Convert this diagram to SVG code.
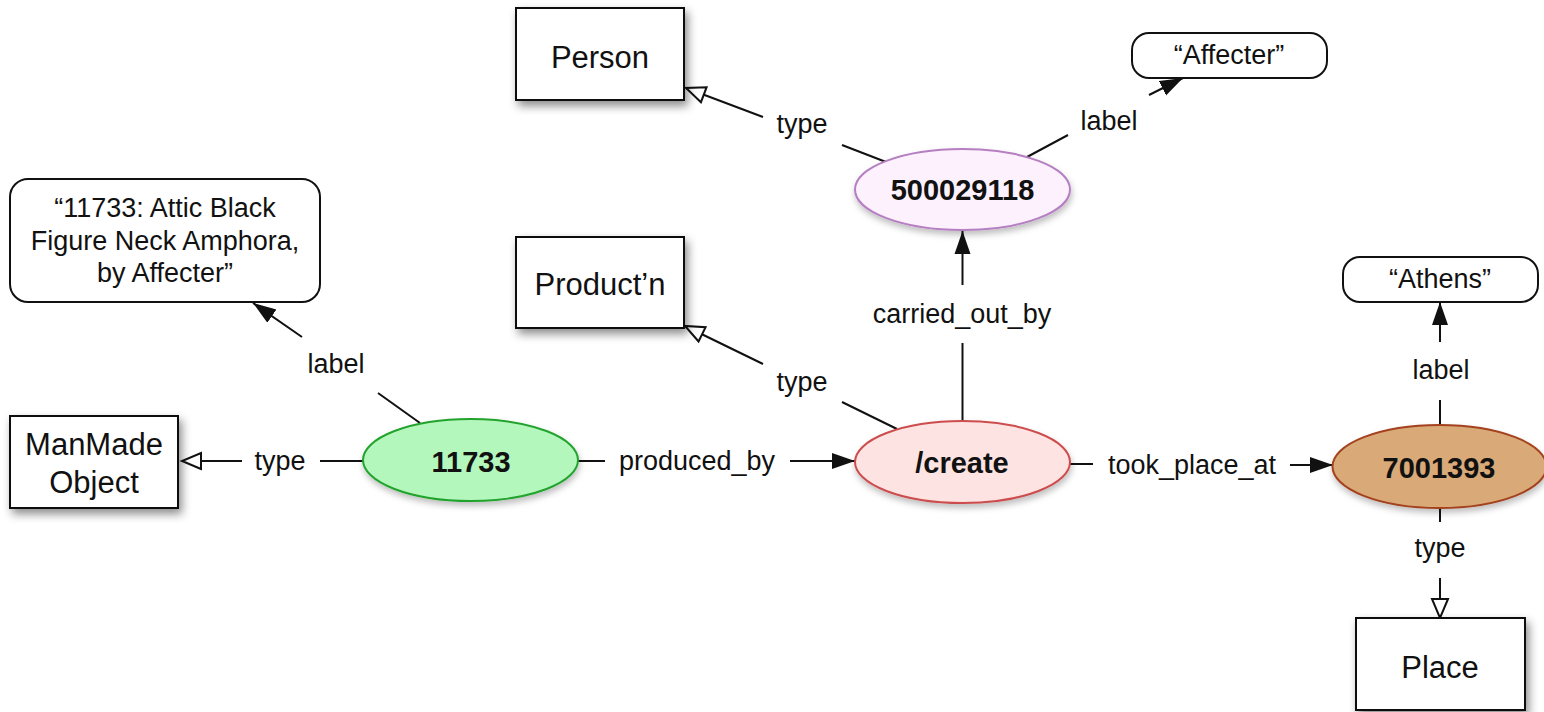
<svg xmlns="http://www.w3.org/2000/svg" width="1544" height="712" viewBox="0 0 1544 712">
<style>
  text { font-family: "Liberation Sans", Arial, Helvetica, sans-serif; fill: #111; text-anchor: middle; }
  .cls rect { fill: #fff; stroke: #111; stroke-width: 2; filter: url(#shadow); }
  .cls text { font-size: 31px; }
  .lit rect { fill: #fff; stroke: #111; stroke-width: 2; }
  .lit text { font-size: 27px; }
  .res ellipse { stroke-width: 2; filter: url(#eshadow); }
  .res text { font-size: 29px; font-weight: bold; }
  .edge path { fill: none; stroke: #111; stroke-width: 2; }
  .edge text { font-size: 27px; }
  .filled path { marker-end: url(#arrowFilled); }
  .hollow path { marker-end: url(#arrowHollow); }
</style>
<defs>
  <filter id="shadow" x="-20%" y="-20%" width="150%" height="160%">
    <feDropShadow dx="3" dy="5" stdDeviation="5" flood-color="#000" flood-opacity="0.45"/>
  </filter>
  <filter id="eshadow" x="-20%" y="-20%" width="140%" height="160%">
    <feDropShadow dx="1" dy="4" stdDeviation="3" flood-color="#000" flood-opacity="0.25"/>
  </filter>
  <marker id="arrowFilled" markerUnits="userSpaceOnUse" markerWidth="24" markerHeight="18" viewBox="0 0 24 18" refX="23" refY="9" orient="auto">
    <path d="M0,1 L23,9 L0,17 z" fill="#111" stroke="none"/>
  </marker>
  <marker id="arrowHollow" markerUnits="userSpaceOnUse" markerWidth="24" markerHeight="20" viewBox="0 0 24 20" refX="21" refY="10" orient="auto">
    <path d="M2,2 L21,10 L2,18 z" fill="#fff" stroke="#111" stroke-width="2"/>
  </marker>
</defs>

<g id="connectors" class="edge">
  <g id="e_11733_type" class="hollow">
    <path d="M363,461 H320 M242,461 H182"/>
    <text x="280" y="470">type</text>
  </g>
  <g id="e_11733_label" class="filled">
    <path d="M420,423 L378,393 M302,337 L253,303"/>
    <text x="336" y="373">label</text>
  </g>
  <g id="e_produced_by" class="filled">
    <path d="M578,461 H605 M790,461 H855"/>
    <text x="697" y="470">produced_by</text>
  </g>
  <g id="e_create_type" class="hollow">
    <path d="M897,429 L842,402 M763,364 L685,326"/>
    <text x="802" y="391">type</text>
  </g>
  <g id="e_carried_out_by" class="filled">
    <path d="M962.5,421 V343 M962.5,285 V231"/>
    <text x="962" y="323">carried_out_by</text>
  </g>
  <g id="e_took_place_at" class="filled">
    <path d="M1070,464 H1093 M1290,465 H1333"/>
    <text x="1192" y="474">took_place_at</text>
  </g>
  <g id="e_500029118_type" class="hollow">
    <path d="M886,162 L842,145 M763,117 L686,88"/>
    <text x="802" y="133">type</text>
  </g>
  <g id="e_500029118_label" class="filled">
    <path d="M1027,157 L1068,135 M1149,95 L1183,78"/>
    <text x="1109" y="130">label</text>
  </g>
  <g id="e_7001393_label" class="filled">
    <path d="M1440,425 V400 M1440,342 V302"/>
    <text x="1441" y="379">label</text>
  </g>
  <g id="e_7001393_type" class="hollow">
    <path d="M1440,508 V522 M1440,578 V618"/>
    <text x="1440" y="557">type</text>
  </g>
</g>

<g id="n_person" class="cls">
  <rect x="516" y="8" width="168" height="92"/>
  <text x="600" y="68">Person</text>
</g>
<g id="n_affecter" class="lit">
  <rect x="1132" y="33" width="195" height="45" rx="17"/>
  <text x="1229" y="64">“Affecter”</text>
</g>
<g id="n_500029118" class="res">
  <ellipse cx="962.5" cy="189.5" rx="107.5" ry="40.5" fill="#fdf1fd" stroke="#b57fc1"/>
  <text x="962.5" y="200">500029118</text>
</g>
<g id="n_literal_11733" class="lit">
  <rect x="10" y="179" width="310" height="123" rx="18"/>
  <text x="165" y="217">“11733: Attic Black</text>
  <text x="165" y="250">Figure Neck Amphora,</text>
  <text x="165" y="282">by Affecter”</text>
</g>
<g id="n_production" class="cls">
  <rect x="516" y="237" width="168" height="91"/>
  <text x="600" y="295">Product’n</text>
</g>
<g id="n_manmade" class="cls">
  <rect x="10" y="416" width="168" height="92"/>
  <text x="94" y="455">ManMade</text>
  <text x="94" y="493">Object</text>
</g>
<g id="n_11733" class="res">
  <ellipse cx="470.5" cy="460" rx="107.5" ry="41" fill="#b4f7bc" stroke="#23a32d"/>
  <text x="471" y="472">11733</text>
</g>
<g id="n_create" class="res">
  <ellipse cx="962.5" cy="462" rx="107.5" ry="41" fill="#fde3e1" stroke="#cc4d4d"/>
  <text x="962" y="473">/create</text>
</g>
<g id="n_athens" class="lit">
  <rect x="1343" y="257" width="195" height="45" rx="17"/>
  <text x="1440" y="288">“Athens”</text>
</g>
<g id="n_7001393" class="res">
  <ellipse cx="1439.5" cy="466.5" rx="107" ry="41.5" fill="#d9a978" stroke="#a3421f"/>
  <text x="1439" y="478">7001393</text>
</g>
<g id="n_place" class="cls">
  <rect x="1356" y="618" width="169" height="92"/>
  <text x="1440" y="678">Place</text>
</g>
</svg>
